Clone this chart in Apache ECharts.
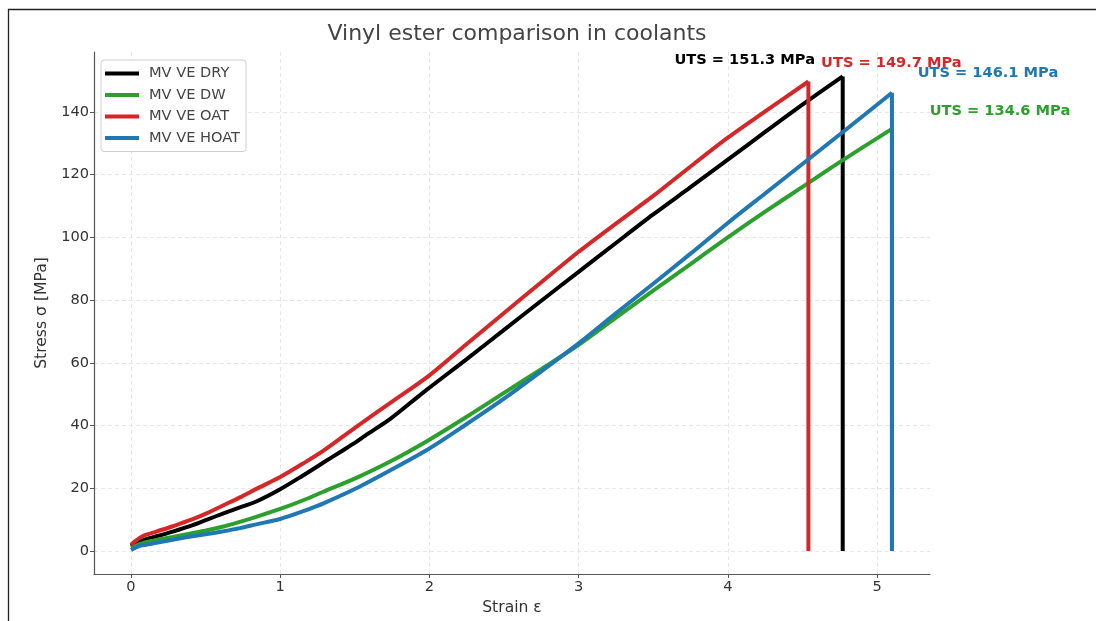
<!DOCTYPE html>
<html><head><meta charset="utf-8">
<script src="https://cdn.jsdelivr.net/npm/echarts@6/dist/echarts.min.js"></script>
<style>html,body{margin:0;padding:0;background:#fff}#c{width:1096px;height:621px}</style>
</head><body><div id="c"></div>
<script>
// ---- data ----
const seriesNames = ['MV VE DRY', 'MV VE DW', 'MV VE OAT', 'MV VE HOAT'];
const seriesColors = ['#000000', '#2ca02c', '#d62728', '#1f77b4'];

const dryStrain  = [0, 0.05, 0.10, 0.17, 0.28, 0.40, 0.51, 0.62, 0.73, 0.84, 1.0, 1.15, 1.29, 1.40, 1.51, 1.57, 1.74, 1.96, 2.25, 2.5, 2.75, 3.0, 3.25, 3.5, 3.75, 4.0, 4.25, 4.5, 4.77];
const dryStress  = [1.5, 2.9, 3.8, 4.7, 6.2, 8.0, 10.0, 12.0, 13.9, 15.8, 19.7, 24.0, 28.2, 31.5, 34.8, 36.8, 42.2, 50.6, 61.2, 70.5, 79.8, 89.0, 98.2, 107.3, 116.0, 124.8, 133.6, 142.3, 151.3];

const dwStrain   = [0, 0.05, 0.10, 0.17, 0.28, 0.40, 0.51, 0.62, 0.73, 0.84, 1.0, 1.15, 1.29, 1.51, 1.74, 2.0, 2.25, 2.5, 2.75, 3.0, 3.25, 3.5, 3.75, 4.0, 4.25, 4.5, 4.75, 5.10];
const dwStress   = [1.0, 2.0, 2.8, 3.5, 4.5, 5.6, 6.6, 7.8, 9.3, 10.9, 13.4, 16.1, 18.9, 23.3, 28.6, 35.5, 42.8, 50.4, 58.0, 65.7, 74.4, 83.0, 91.5, 100.0, 108.2, 116.1, 124.0, 134.6];

const oatStrain  = [0, 0.03, 0.08, 0.17, 0.28, 0.40, 0.51, 0.62, 0.73, 0.84, 1.0, 1.15, 1.29, 1.51, 1.74, 2.0, 2.25, 2.5, 2.75, 3.0, 3.25, 3.5, 3.75, 4.0, 4.26, 4.54];
const oatStress  = [2.0, 3.2, 4.8, 6.2, 7.9, 9.9, 12.1, 14.6, 17.1, 19.8, 23.6, 27.8, 32.0, 39.6, 47.3, 56.0, 66.0, 75.9, 85.7, 95.4, 104.4, 113.2, 122.6, 131.8, 140.5, 149.7];

const hoatStrain = [0, 0.05, 0.10, 0.17, 0.28, 0.40, 0.51, 0.62, 0.73, 0.84, 1.0, 1.15, 1.29, 1.51, 1.74, 2.0, 2.25, 2.5, 2.75, 3.0, 3.25, 3.5, 3.75, 4.0, 4.25, 4.5, 4.75, 5.10];
const hoatStress = [0.3, 1.5, 2.0, 2.6, 3.6, 4.6, 5.4, 6.3, 7.3, 8.5, 10.2, 12.6, 15.2, 20.0, 25.8, 32.7, 40.5, 48.6, 57.3, 66.2, 75.8, 85.2, 94.8, 104.6, 114.0, 123.4, 132.8, 146.1];

const utsValues = [151.3, 134.6, 149.7, 146.1];
const xTicks = [0, 1, 2, 3, 4, 5];
const yTicks = [0, 20, 40, 60, 80, 100, 120, 140];

// ---- build ----
const strains = [dryStrain, dwStrain, oatStrain, hoatStrain];
const stresses = [dryStress, dwStress, oatStress, hoatStress];
const pairs = (xs, ys) => xs.map((x, i) => [x, ys[i]]);

// pixel offsets of each UTS label centre from its failure peak
const labelOffsets = [[-98, -16.5], [108, -17.5], [83, -18], [96, -19.5]];

const FONT = 'DejaVu Sans';
const FS = 14.6;
const chart = echarts.init(document.getElementById('c'), null, {renderer: 'canvas'});

const axisCommon = {
  axisLine: {show: true, onZero: false, lineStyle: {color: '#555', width: 1.2}},
  splitLine: {show: true, lineStyle: {color: '#e6e6e6', type: [4, 3], width: 1}},
};

const series = [];
seriesNames.forEach((n, i) => {
  const xs = strains[i], ys = stresses[i];
  const last = xs.length - 1;
  series.push({
    name: n, type: 'line', data: pairs(xs, ys),
    showSymbol: false, symbol: 'none', smooth: 0.3,
    lineStyle: {color: seriesColors[i], width: 4, cap: 'butt'},
    itemStyle: {color: seriesColors[i]},
    z: 2 + i, clip: false
  });
  // vertical drop at failure
  series.push({
    name: n, type: 'line', data: [[xs[last], ys[last]], [xs[last], 0]],
    showSymbol: false, symbol: 'none', smooth: false,
    lineStyle: {color: seriesColors[i], width: 4, cap: 'butt', join: 'miter'},
    itemStyle: {color: seriesColors[i]},
    z: 2 + i, clip: false
  });
});

chart.setOption({
  animation: false,
  backgroundColor: '#fff',
  title: {
    text: 'Vinyl ester comparison in coolants',
    left: 512, top: 18, textAlign: 'center',
    textStyle: {fontFamily: FONT, fontSize: 22, fontWeight: 'normal', color: '#444'}
  },
  grid: {left: 94, right: 166, top: 52, bottom: 47, containLabel: false},
  legend: {
    data: seriesNames,
    orient: 'vertical',
    left: 101, top: 60,
    icon: 'rect', itemWidth: 34, itemHeight: 4, itemGap: 6.5,
    padding: [6, 6, 6, 4],
    borderColor: '#d0d0d0', borderWidth: 1, borderRadius: 3,
    backgroundColor: 'rgba(255,255,255,0.9)',
    textStyle: {fontFamily: FONT, fontSize: FS, color: '#444', padding: [0, 0, 0, 5]}
  },
  xAxis: Object.assign({}, axisCommon, {
    type: 'value', min: -0.248, max: 5.355,
    axisTick: {show: true, inside: false, length: 4, customValues: xTicks, lineStyle: {color: '#555', width: 1}},
    axisLabel: {customValues: xTicks, fontFamily: FONT, fontSize: FS, color: '#333', margin: 6},
    name: 'Strain ε', nameLocation: 'middle', nameGap: 24,
    nameTextStyle: {fontFamily: FONT, fontSize: 15.6, color: '#333'}
  }),
  yAxis: Object.assign({}, axisCommon, {
    type: 'value', min: -7.33, max: 159.1,
    axisTick: {show: true, inside: false, length: 4, customValues: yTicks, lineStyle: {color: '#555', width: 1}},
    axisLabel: {customValues: yTicks, fontFamily: FONT, fontSize: FS, color: '#333', margin: 5},
    name: 'Stress σ [MPa]', nameLocation: 'middle', nameGap: 32,
    nameTextStyle: {fontFamily: FONT, fontSize: 15.6, color: '#333'}
  }),
  series: series
});

const graphics = [{
  type: 'rect', shape: {x: 8.5, y: 9.5, width: 1300, height: 1000},
  style: {fill: 'none', stroke: '#222', lineWidth: 1.3}, silent: true
}];
seriesNames.forEach((n, i) => {
  const xs = strains[i];
  const peak = chart.convertToPixel({gridIndex: 0}, [xs[xs.length - 1], utsValues[i]]);
  graphics.push({
    type: 'text',
    x: peak[0] + labelOffsets[i][0], y: peak[1] + labelOffsets[i][1],
    style: {
      text: 'UTS = ' + utsValues[i].toFixed(1) + ' MPa',
      fill: seriesColors[i], fontFamily: FONT, fontSize: FS, fontWeight: 'bold',
      textAlign: 'center', textVerticalAlign: 'middle'
    },
    z: 100
  });
});
chart.setOption({graphic: graphics});
</script></body></html>
